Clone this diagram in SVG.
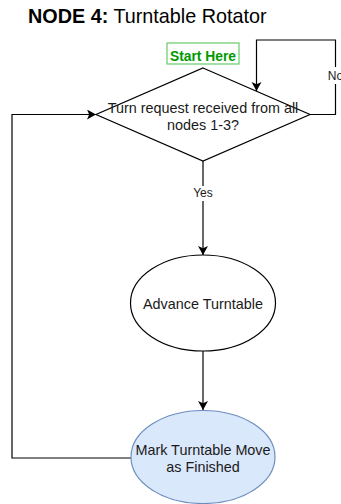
<svg xmlns="http://www.w3.org/2000/svg" width="341" height="504" viewBox="0 0 341 504">
  <style>
    .shape { fill: #ffffff; stroke: #000000; stroke-width: 1.2; }
    .blue { fill: #dae8fc; stroke: #6c8ebf; stroke-width: 1.2; }
    .edge { fill: none; stroke: #000000; stroke-width: 1.2; }
    .lbl { font-family: "Liberation Sans", Arial, sans-serif; font-size: 14.4px; fill: #1a1a1a; text-anchor: middle; }
    .elbl { font-family: "Liberation Sans", Arial, sans-serif; font-size: 12px; fill: #1a1a1a; text-anchor: middle; }
    .title { font-family: "Liberation Sans", Arial, sans-serif; font-size: 19.8px; fill: #000000; }
  </style>
  <defs>
    <marker id="arrow" markerUnits="userSpaceOnUse" markerWidth="11" markerHeight="11" refX="9" refY="5" orient="auto">
      <path d="M0,0 L9,5 L0,10 L2.2,5 Z" fill="#000000"/>
    </marker>
  </defs>

  <rect width="341" height="504" fill="#ffffff"/>

  <!-- heading -->
  <g id="title">
    <text class="title" x="28" y="22.5"><tspan font-weight="bold">NODE 4:</tspan> Turntable Rotator</text>
  </g>

  <!-- connectors -->
  <g id="connectors">
    <path class="edge" d="M203,161 L203,255" marker-end="url(#arrow)"/>
    <path class="edge" d="M203,351 L203,410" marker-end="url(#arrow)"/>
    <path class="edge" d="M310,114.5 L335.5,114.5 L335.5,40 L256.5,40 L256.5,91" marker-end="url(#arrow)"/>
    <path class="edge" d="M131,458 L12,458 L12,114.5 L96,114.5" marker-end="url(#arrow)"/>
    <g id="label-yes">
      <rect x="191" y="186" width="24" height="15" fill="#ffffff"/>
      <text class="elbl" x="203" y="197">Yes</text>
    </g>
    <g id="label-no">
      <rect x="327" y="67" width="14" height="17" fill="#ffffff"/>
      <text class="elbl" x="335.5" y="80">No</text>
    </g>
  </g>

  <!-- start marker -->
  <g id="start">
    <rect x="167" y="43" width="72" height="21" fill="#ffffff" stroke="#66cc66" stroke-width="1.2"/>
    <text x="203" y="60.5" font-family="'Liberation Sans', Arial, sans-serif" font-size="13.8px" font-weight="bold" fill="#009900" text-anchor="middle">Start Here</text>
  </g>

  <!-- decision -->
  <g id="decision">
    <polygon class="shape" points="203,68 310,114.5 203,161 96,114.5"/>
    <text class="lbl" x="203" y="113">Turn request received from all</text>
    <text class="lbl" x="203" y="130">nodes 1-3?</text>
  </g>

  <!-- process: advance -->
  <g id="advance">
    <ellipse class="shape" cx="203" cy="303" rx="72.5" ry="48"/>
    <text class="lbl" x="203" y="308.5">Advance Turntable</text>
  </g>

  <!-- process: mark finished -->
  <g id="finished">
    <ellipse class="blue" cx="203" cy="457" rx="72" ry="46.5"/>
    <text class="lbl" x="203" y="455">Mark Turntable Move</text>
    <text class="lbl" x="203" y="472">as Finished</text>
  </g>
</svg>
